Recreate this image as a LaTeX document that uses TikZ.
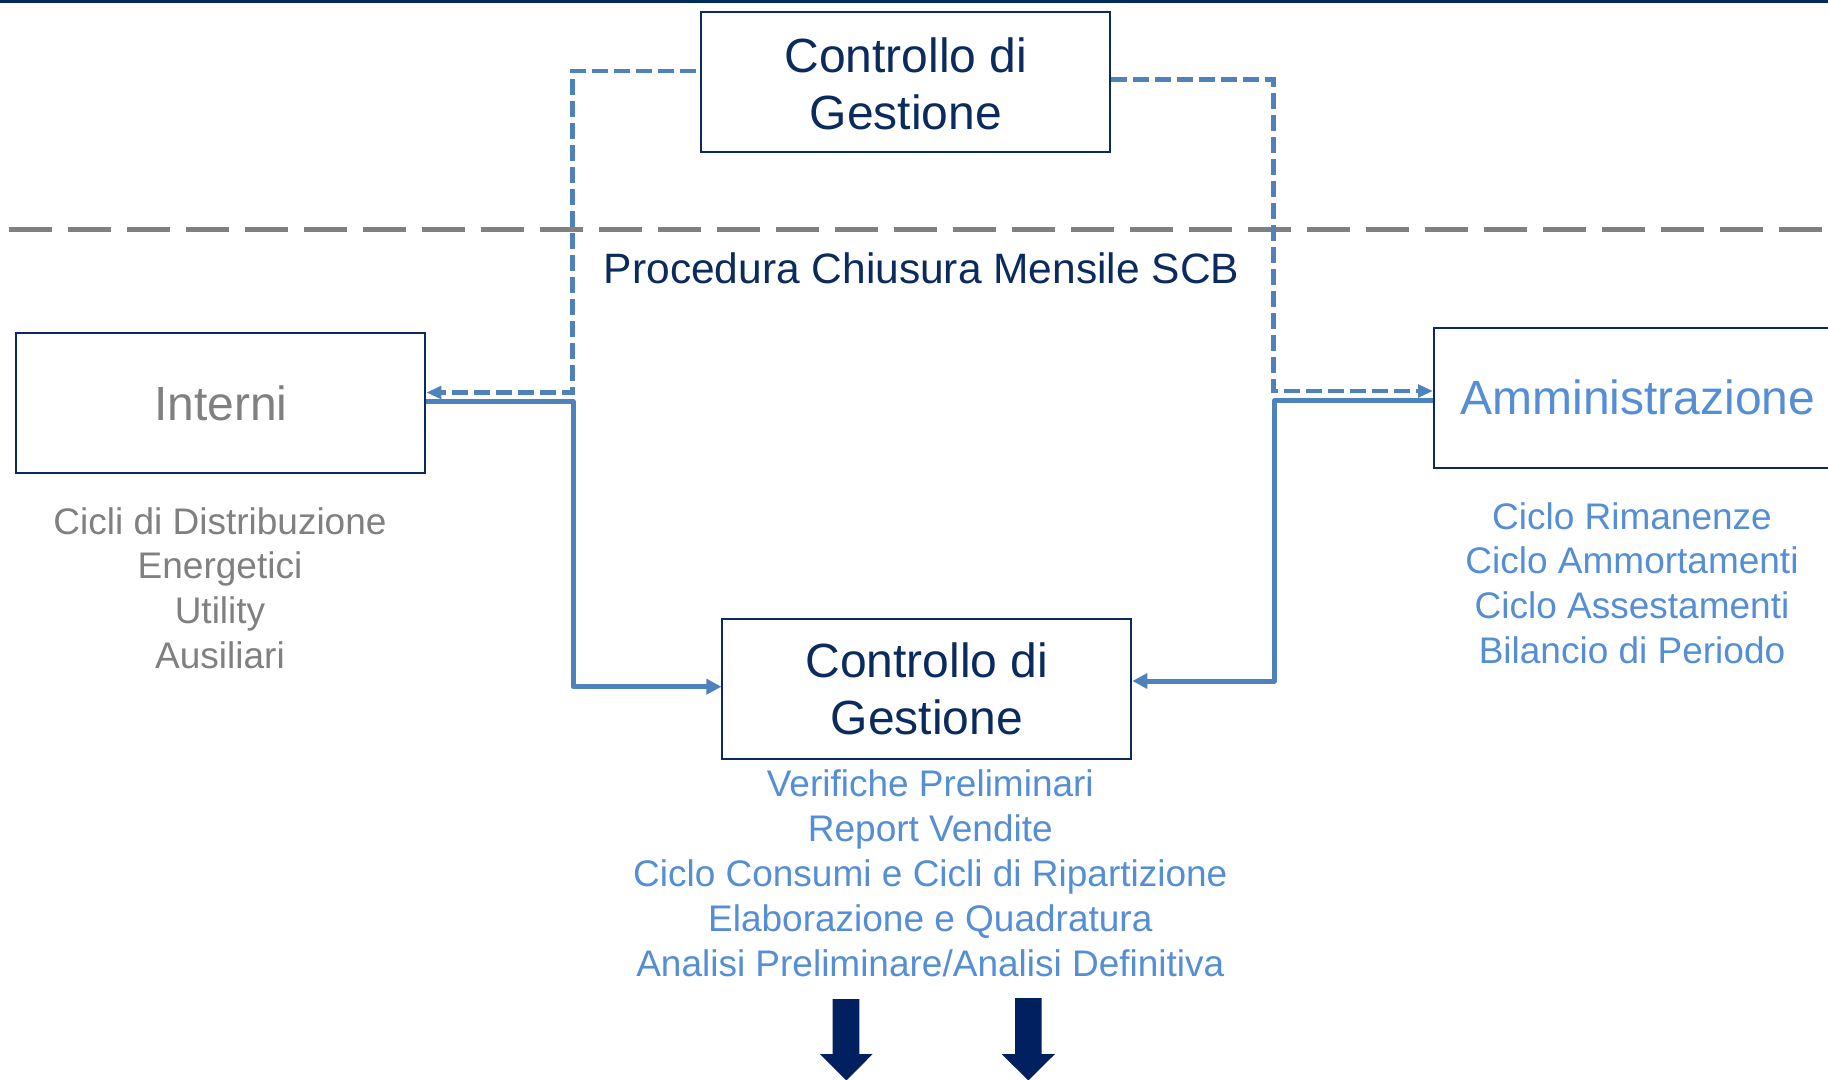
\documentclass[tikz,border=0pt]{standalone}
\usepackage{fontspec}
\setmainfont{Liberation Sans}
\usetikzlibrary{arrows.meta}
\definecolor{navy}{HTML}{0B2B5E}
\definecolor{arrownavy}{HTML}{002060}
\definecolor{linkblue}{HTML}{4F81BD}
\definecolor{lightblue}{HTML}{558ED5}
\definecolor{midgray}{HTML}{808080}
\definecolor{topbar}{HTML}{002B5C}
\newcommand\cgTitle{\fontsize{48}{57}\selectfont}
\newcommand\cgMid{\fontsize{42.5}{50}\selectfont}
\newcommand\cgList{\fontsize{37}{45}\selectfont}
\begin{document}
\begin{tikzpicture}[x=1pt,y=-1pt,
  box/.style={draw=navy,line width=2pt,minimum width=409pt,minimum height=140pt,inner sep=0pt,align=center,font=\cgTitle},
  listitem/.style={anchor=base,inner sep=0pt,font=\cgList},
  link/.style={draw=linkblue,line width=5pt,line join=round,-{Triangle[length=15pt,width=15pt]}},
  dlink/.style={draw=linkblue,line width=4.6pt,dash pattern=on 16pt off 6pt,-{Triangle[length=15pt,width=12.5pt]}},
  bigarrow/.style={fill=arrownavy}
]
\useasboundingbox (0,0) rectangle (1828,1079);
\clip (0,0) rectangle (1828,1079);
\fill[white] (0,0) rectangle (1828,1079);
\fill[topbar] (0,0) rectangle (1828,3);
\draw[midgray,line width=5.5pt,dash pattern=on 43pt off 16pt] (9,229.7) -- (1828,229.7);

% boxes
\node[box,text height=95.6pt,text depth=0pt,text=navy] (ctop) at (905.9,81.7) {Controllo di\\Gestione};
\node[box,text height=91pt,text depth=0pt,text=navy] (cbot) at (926.9,689) {Controllo di\\Gestione};
\node[box,text=midgray] (interni) at (220.9,403.4) {Interni};
\node[box,text=lightblue,minimum width=408pt] (amm) at (1638,397.5) {Amministrazione};

% heading
\node[anchor=base,font=\cgMid,text=navy,inner sep=0pt] (proc) at (921.6,283.5) {Procedura Chiusura Mensile SCB};

% lists
\foreach \t [count=\i] in {Cicli di Distribuzione,Energetici,Utility,Ausiliari}
  \node[listitem,text=midgray] (int\i) at (220,{534+44.8*(\i-1)}) {\t};
\foreach \t [count=\i] in {Ciclo Rimanenze,Ciclo Ammortamenti,Ciclo Assestamenti,Bilancio di Periodo}
  \node[listitem,text=lightblue] (adm\i) at (1632,{529+44.7*(\i-1)}) {\t};
\foreach \t [count=\i] in {Verifiche Preliminari,Report Vendite,Ciclo Consumi e Cicli di Ripartizione,Elaborazione e Quadratura,Analisi Preliminare/Analisi Definitiva}
  \node[listitem,text=lightblue] (cdg\i) at (930.3,{796+45.1*(\i-1)}) {\t};

% connectors
\coordinate (jl) at (572.5,392.5);
\coordinate (sl) at (573,401.4);
\coordinate (jr) at (1273.5,391);
\coordinate (sr) at (1274.3,400.7);
\draw[dlink] ([xshift=-4pt,yshift=10.7pt]ctop.west) -| (jl) -- (interni.east |- jl);
\draw[link] ([yshift=2pt]interni.east) -- (sl) |- ([yshift=2.3pt]cbot.west);
\draw[dlink] ([yshift=2.4pt]ctop.east) -| (jr) -- (amm.west |- jr);
\draw[link] (amm.west |- sr) -- (sr) |- ([yshift=8pt]cbot.east);

% down arrows
\fill[bigarrow] (832.7,999) -- (859.3,999) -- (859.3,1054) -- (872.7,1054) -- (846.3,1080.5) -- (820,1054) -- (832.7,1054) -- cycle;
\fill[bigarrow] (1015,998) -- (1041.7,998) -- (1041.7,1054) -- (1055,1054) -- (1028.3,1080.5) -- (1001.7,1054) -- (1015,1054) -- cycle;
\end{tikzpicture}
\end{document}
